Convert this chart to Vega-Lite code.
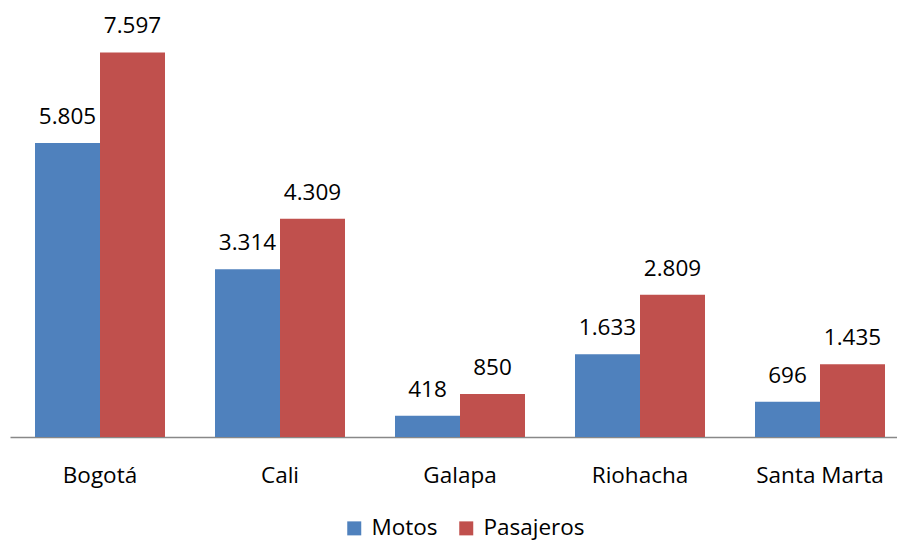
{
  "$schema": "https://vega.github.io/schema/vega-lite/v6.json",
  "autosize": "none",
  "padding": {"left": 10, "top": 32, "right": 0, "bottom": 105},
  "width": 900,
  "height": 405,
  "background": "white",
  "config": {
    "view": {"stroke": null},
    "font": "Open Sans",
    "locale": {"number": {"decimal": ",", "thousands": ".", "grouping": [3], "currency": ["$", ""]}}
  },
  "data": {
    "values": [
      {"ciudad": "Bogotá", "serie": "Motos", "valor": 5805},
      {"ciudad": "Bogotá", "serie": "Pasajeros", "valor": 7597},
      {"ciudad": "Cali", "serie": "Motos", "valor": 3314},
      {"ciudad": "Cali", "serie": "Pasajeros", "valor": 4309},
      {"ciudad": "Galapa", "serie": "Motos", "valor": 418},
      {"ciudad": "Galapa", "serie": "Pasajeros", "valor": 850},
      {"ciudad": "Riohacha", "serie": "Motos", "valor": 1633},
      {"ciudad": "Riohacha", "serie": "Pasajeros", "valor": 2809},
      {"ciudad": "Santa Marta", "serie": "Motos", "valor": 696},
      {"ciudad": "Santa Marta", "serie": "Pasajeros", "valor": 1435}
    ]
  },
  "encoding": {
    "x": {
      "field": "ciudad", "type": "nominal", "sort": null,
      "scale": {"paddingInner": 0.2778, "paddingOuter": 0.1389},
      "axis": {
        "title": null, "labelAngle": 0, "ticks": false, "labelFontSize": 22.5,
        "labelColor": "#000", "labelPadding": 45, "labelBaseline": "alphabetic",
        "domainColor": "#888888", "domainWidth": 1.5, "labelFont": "Open Sans"
      }
    },
    "xOffset": {"field": "serie", "type": "nominal", "scale": {"paddingInner": 0, "paddingOuter": 0}},
    "y": {
      "field": "valor", "type": "quantitative",
      "scale": {"domain": [0, 8000], "nice": false},
      "axis": null
    }
  },
  "layer": [
    {
      "mark": {"type": "bar"},
      "encoding": {
        "color": {
          "field": "serie", "type": "nominal",
          "scale": {"domain": ["Motos", "Pasajeros"], "range": ["#4F81BD", "#C0504D"]},
          "legend": {
            "title": null, "orient": "none", "direction": "horizontal",
            "legendX": 333, "legendY": 485, "padding": 0,
            "symbolType": "square", "symbolSize": 196, "symbolStrokeWidth": 0,
            "labelFontSize": 22.5, "labelColor": "#000", "labelFont": "Open Sans",
            "labelOffset": 6, "columnPadding": 17
          }
        }
      }
    },
    {
      "mark": {"type": "text", "fontSize": 22.5, "baseline": "alphabetic", "dy": -19, "color": "#000"},
      "encoding": {
        "text": {"field": "valor", "type": "quantitative", "format": ",d"}
      }
    }
  ]
}
